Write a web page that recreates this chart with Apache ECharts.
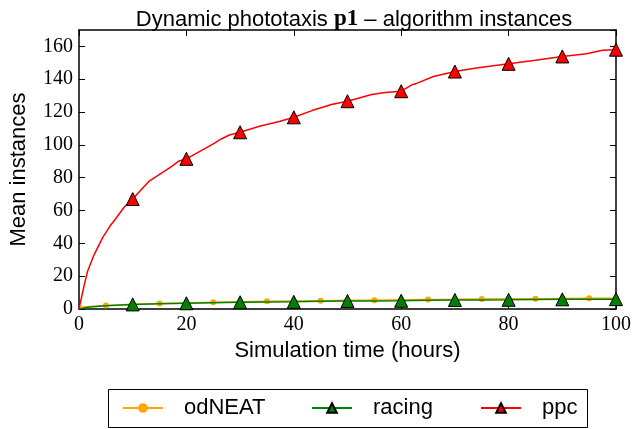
<!DOCTYPE html>
<html>
<head>
<meta charset="utf-8">
<script src="https://cdn.jsdelivr.net/npm/echarts@6/dist/echarts.min.js"></script>
<style>
html,body{margin:0;padding:0;background:#fff;}
#chart{width:634px;height:429px;}
</style>
</head>
<body>
<div id="chart"></div>
<script>
// ---- data ----
const xTicks = [0, 20, 40, 60, 80, 100];
const yTicks = [0, 20, 40, 60, 80, 100, 120, 140, 160];
const seriesNames = ['odNEAT', 'racing', 'ppc'];

const odneatX = [0, 5, 10, 15, 20, 25, 30, 35, 40, 45, 50, 55, 60, 65, 70, 75, 80, 85, 90, 95, 100];
const odneatY = [1.0, 2.2, 2.9, 3.3, 3.7, 4.1, 4.4, 4.7, 4.9, 5.1, 5.3, 5.4, 5.6, 5.8, 5.9, 6.1, 6.2, 6.3, 6.4, 6.5, 6.6];
const odneatMarkers = [5, 10, 15, 20, 25, 30, 35, 40, 45, 50, 55, 60, 65, 70, 75, 80, 85, 90, 95, 100];

const racingX = [0, 2, 5, 10, 15, 20, 25, 30, 35, 40, 45, 50, 55, 60, 65, 70, 75, 80, 85, 90, 95, 100];
const racingY = [0, 1.2, 2.0, 2.8, 3.2, 3.5, 3.8, 4.1, 4.3, 4.4, 4.7, 4.9, 4.9, 5.0, 5.3, 5.5, 5.5, 5.6, 5.8, 5.9, 5.9, 6.0];
const racingMarkers = [10, 20, 30, 40, 50, 60, 70, 80, 90, 100];

const ppcX = [0, 1, 1.6, 2.8, 4.4, 5.8, 6.8, 8.4, 10, 11.4, 13, 15, 17, 18.5, 20, 23, 25, 26.5, 28, 30, 33.6, 37.3, 40, 43.4, 47, 50, 54.5, 57, 60, 62, 63, 66, 70, 74, 80, 85, 90, 94.5, 97.5, 100];
const ppcY = [0, 15, 23, 33, 43.5, 50.7, 54.8, 62, 67, 72, 77.7, 82, 86.3, 90, 91.5, 97, 100.6, 103.6, 106, 107.7, 111.3, 114.2, 116.8, 120.9, 124.6, 126.6, 130.7, 131.9, 132.7, 136.6, 137.6, 141.7, 144.7, 146.8, 149.4, 151.5, 153.9, 155.5, 157.6, 158];
const ppcMarkers = [10, 20, 30, 40, 50, 60, 70, 80, 90, 100];

function build(xs, ys, marks) {
  return xs.map((x, i) => {
    const item = { value: [x, ys[i]] };
    if (marks.indexOf(x) < 0) item.symbol = 'none';
    return item;
  });
}

const serif = 'Liberation Serif';
const sans = 'Liberation Sans';

const chart = echarts.init(document.getElementById('chart'), null, { renderer: 'canvas' });

const axisCommon = {
  type: 'value',
  axisLine: { show: true, onZero: false, lineStyle: { color: '#000', width: 1.5 } },
  axisTick: { show: true, inside: true, length: 6, lineStyle: { color: '#000', width: 1 } },
  splitLine: { show: false }
};

const legendLefts = [122, 311, 480];
const legends = seriesNames.map((name, i) => ({
  left: legendLefts[i],
  top: 397,
  padding: 0,
  itemWidth: 40,
  itemHeight: 12,
  data: [name],
  textStyle: { fontFamily: sans, fontSize: 22, color: '#000', padding: [0, 0, 0, 16] }
}));

chart.setOption({
  animation: false,
  backgroundColor: '#fff',
  title: {
    text: '{a|Dynamic phototaxis }{b|p1}{a| – algorithm instances}',
    left: 349,
    textAlign: 'center',
    top: 3,
    textStyle: {
      fontWeight: 'normal',
      rich: {
        a: { fontFamily: sans, fontSize: 22, fontWeight: 'normal', color: '#000' },
        b: { fontFamily: serif, fontSize: 23, fontWeight: 'bold', color: '#000' }
      }
    }
  },
  graphic: [{
    type: 'rect',
    shape: { x: 108.5, y: 389.5, width: 479, height: 38 },
    style: { fill: 'none', stroke: '#000', lineWidth: 1 },
    silent: true
  }],
  grid: { left: 78, right: 14, top: 30, bottom: 120, containLabel: false },
  legend: legends,
  xAxis: [
    Object.assign({}, axisCommon, {
      min: 0, max: 100, interval: 20, position: 'bottom',
      name: 'Simulation time (hours)', nameLocation: 'middle', nameGap: 29,
      nameTextStyle: { fontFamily: sans, fontSize: 22, color: '#000' },
      axisLabel: { show: true, margin: 6, fontFamily: serif, fontSize: 20, color: '#000',
        formatter: function (v) { return xTicks.indexOf(v) >= 0 ? String(v) : ''; } }
    }),
    Object.assign({}, axisCommon, {
      min: 0, max: 100, interval: 20, position: 'top',
      axisLabel: { show: false }
    })
  ],
  yAxis: [
    Object.assign({}, axisCommon, {
      min: 0, max: 170, interval: 20, position: 'left',
      name: 'Mean instances', nameLocation: 'middle', nameGap: 49,
      nameTextStyle: { fontFamily: sans, fontSize: 22, color: '#000' },
      axisLabel: { show: true, margin: 6, fontFamily: serif, fontSize: 20, color: '#000', showMaxLabel: false,
        formatter: function (v) { return yTicks.indexOf(v) >= 0 ? String(v) : ''; } }
    }),
    Object.assign({}, axisCommon, {
      min: 0, max: 170, interval: 20, position: 'right',
      axisLabel: { show: false }
    })
  ],
  series: [
    {
      name: seriesNames[0], type: 'line', xAxisIndex: 0, yAxisIndex: 0,
      data: build(odneatX, odneatY, odneatMarkers),
      symbol: 'circle', symbolSize: 6, showSymbol: true,
      lineStyle: { color: '#FFA500', width: 1.5 },
      itemStyle: { color: '#FFA500', borderColor: '#FFA500', borderWidth: 0 },
      z: 2
    },
    {
      name: seriesNames[1], type: 'line', xAxisIndex: 0, yAxisIndex: 0,
      data: build(racingX, racingY, racingMarkers),
      symbol: 'triangle', symbolSize: 13, showSymbol: true,
      lineStyle: { color: '#008000', width: 1.5 },
      itemStyle: { color: '#008000', borderColor: '#000', borderWidth: 1 },
      z: 3
    },
    {
      name: seriesNames[2], type: 'line', xAxisIndex: 0, yAxisIndex: 0,
      data: build(ppcX, ppcY, ppcMarkers),
      symbol: 'triangle', symbolSize: 13, showSymbol: true,
      lineStyle: { color: '#FF0000', width: 1.5 },
      itemStyle: { color: '#FF0000', borderColor: '#000', borderWidth: 1 },
      z: 4
    }
  ]
});
</script>
</body>
</html>
